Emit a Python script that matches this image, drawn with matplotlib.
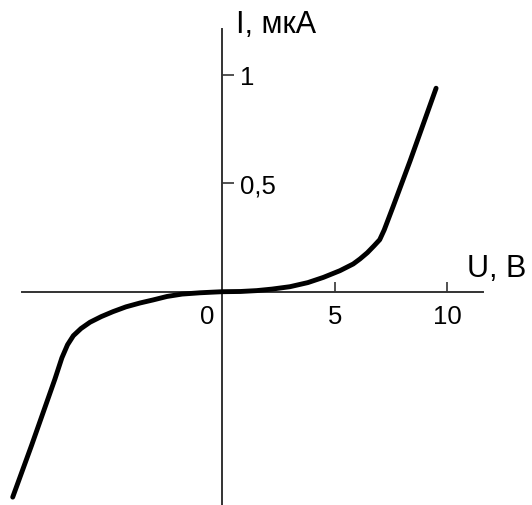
import matplotlib.pyplot as plt

plt.rcParams['font.family'] = ['Liberation Sans', 'DejaVu Sans']

# I-V curve
u_volts = [-9.34, -8.5, -7.46, -7.15, -6.9, -6.64, -6.3, -5.90, -5.4, -4.875, -4.3,
           -3.67, -3.09, -2.47, -1.8, -1.0, -0.42, 0.0, 0.8, 1.52, 2.2, 3.0,
           3.8, 4.49, 5.23, 5.82, 6.12, 6.45, 6.75, 7.0, 7.2, 7.60, 8.35, 9.51]
i_ua = [-0.948, -0.709, -0.403, -0.305, -0.245, -0.203, -0.170, -0.141, -0.115, -0.092, -0.070,
        -0.052, -0.038, -0.022, -0.011, -0.005, -0.002, 0.0, 0.001, 0.005, 0.012, 0.023,
        0.042, 0.066, 0.097, 0.128, 0.151, 0.180, 0.212, 0.240, 0.285, 0.394, 0.603, 0.939]

x_ticks = [5, 10]
x_tick_labels = ['5', '10']
y_ticks = [0.5, 1.0]
y_tick_labels = ['0,5', '1']

fig = plt.figure(figsize=(5.32, 5.06), dpi=100)
ax = fig.add_axes([0, 0, 1, 1])
ax.set_xlim(-9.906, 13.78)
ax.set_ylim(-0.9843, 1.3507)

ax.plot(u_volts, i_ua, color='black', linewidth=3.5, solid_capstyle='round',
        solid_joinstyle='round', zorder=3)

axis_color = '#333333'
for side in ['left', 'top']:
    ax.spines[side].set_visible(False)
ax.spines['bottom'].set_position(('data', 0))
ax.spines['bottom'].set_bounds(-8.93, 11.6)
ax.spines['right'].set_position(('data', 0))
ax.spines['right'].set_bounds(-0.9843, 1.21)
for side in ['bottom', 'right']:
    ax.spines[side].set_color(axis_color)
    ax.spines[side].set_linewidth(1.4)

ax.set_xticks(x_ticks)
ax.set_xticklabels(x_tick_labels)
ax.tick_params(axis='x', direction='in', length=7.5, width=1.2, color=axis_color,
               labelsize=18.5, pad=9)
ax.yaxis.tick_right()
ax.set_yticks(y_ticks)
ax.set_yticklabels(y_tick_labels)
ax.tick_params(axis='y', direction='out', length=8.5, width=1.2, color=axis_color,
               labelsize=18.5, pad=4)

ax.text(-0.7, -0.055, '0', fontsize=18.5, ha='center', va='top')
ax.text(10.9, 0.11, 'U, В', fontsize=22, ha='left', va='center')
ax.text(0.62, 1.235, 'I, мкА', fontsize=22, ha='left', va='center')

fig.savefig('out.png', dpi=100)
